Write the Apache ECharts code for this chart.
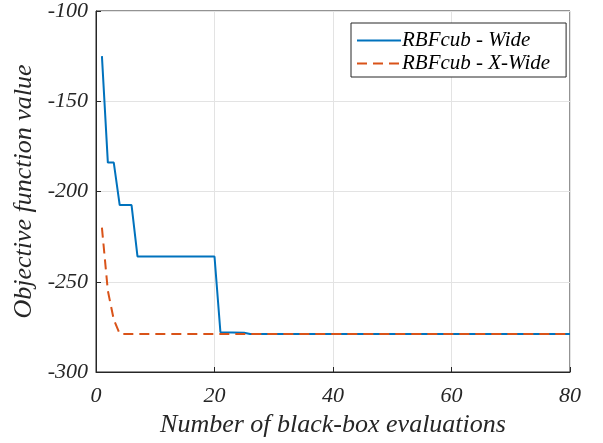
<!DOCTYPE html>
<html>
<head>
<meta charset="utf-8">
<script src="https://cdn.jsdelivr.net/npm/echarts@6/dist/echarts.min.js"></script>
<style>html,body{margin:0;padding:0;background:#fff;}#c{width:603px;height:443px;}</style>
</head>
<body>
<div id="c"></div>
<script>
// Breakpoints of the best-so-far curves (piecewise constant/linear)
const xWide = [1, 2, 3, 4, 6, 7, 20, 21, 25, 26, 80];
const yWide = [-125, -184, -184, -207.5, -207.5, -236, -236, -278, -278.2, -278.9, -278.9];
const xXWide = [1, 2, 3, 4, 80];
const yXWide = [-220, -255, -271, -278.9, -278.9];
const seriesNames = ['RBFcub - Wide', 'RBFcub - X-Wide'];
const xTicks = [0, 20, 40, 60, 80];
const yTicks = [-300, -250, -200, -150, -100];

const pair = (xs, ys) => xs.map((x, i) => [x, ys[i]]);
const font = 'Liberation Serif';
const ax = '#262626';

const chart = echarts.init(document.getElementById('c'), null, {renderer: 'canvas'});
chart.setOption({
  animation: false,
  backgroundColor: '#fff',
  grid: {left: 96, right: 33, top: 9.5, bottom: 71, show: true, borderColor: ax, borderWidth: 1, backgroundColor: 'transparent'},
  legend: {
    orient: 'vertical', left: 351, top: 23,
    padding: [7, 16, 3, 5], itemGap: 2,
    itemWidth: 44, itemHeight: 16,
    backgroundColor: '#fff', borderColor: ax, borderWidth: 1,
    itemStyle: {opacity: 0},
    textStyle: {fontFamily: font, fontStyle: 'italic', fontSize: 21, color: '#000', padding: [0, 0, 0, -4]},
    data: seriesNames
  },
  xAxis: {
    type: 'value', min: xTicks[0], max: xTicks[xTicks.length - 1], interval: 20,
    name: 'Number of black-box evaluations', nameLocation: 'middle', nameGap: 38,
    nameTextStyle: {fontFamily: font, fontStyle: 'italic', fontSize: 26, color: ax},
    axisLine: {show: true, lineStyle: {color: ax, width: 1}},
    axisTick: {show: true, inside: true, length: 5, lineStyle: {color: ax}},
    axisLabel: {fontFamily: font, fontStyle: 'italic', fontSize: 22, color: ax, margin: 13},
    splitLine: {show: true, lineStyle: {color: '#e3e3e3', width: 1}}
  },
  yAxis: {
    type: 'value', min: yTicks[0], max: yTicks[yTicks.length - 1], interval: 50,
    name: 'Objective function value', nameLocation: 'middle', nameGap: 50, nameRotate: 90,
    nameTextStyle: {fontFamily: font, fontStyle: 'italic', fontSize: 26, color: ax},
    axisLine: {show: true, lineStyle: {color: ax, width: 1}},
    axisTick: {show: true, inside: true, length: 5, lineStyle: {color: ax}},
    axisLabel: {fontFamily: font, fontStyle: 'italic', fontSize: 22, color: ax, margin: 8},
    splitLine: {show: true, lineStyle: {color: '#e3e3e3', width: 1}}
  },
  series: [
    {name: seriesNames[0], type: 'line', data: pair(xWide, yWide), showSymbol: false, symbol: 'none',
     lineStyle: {color: '#0072BD', width: 2}, itemStyle: {color: '#0072BD'}, z: 3},
    {name: seriesNames[1], type: 'line', data: pair(xXWide, yXWide), showSymbol: false, symbol: 'none',
     lineStyle: {color: '#D95319', width: 2, type: [10, 6]}, itemStyle: {color: '#D95319'}, z: 4}
  ]
});
</script>
</body>
</html>
